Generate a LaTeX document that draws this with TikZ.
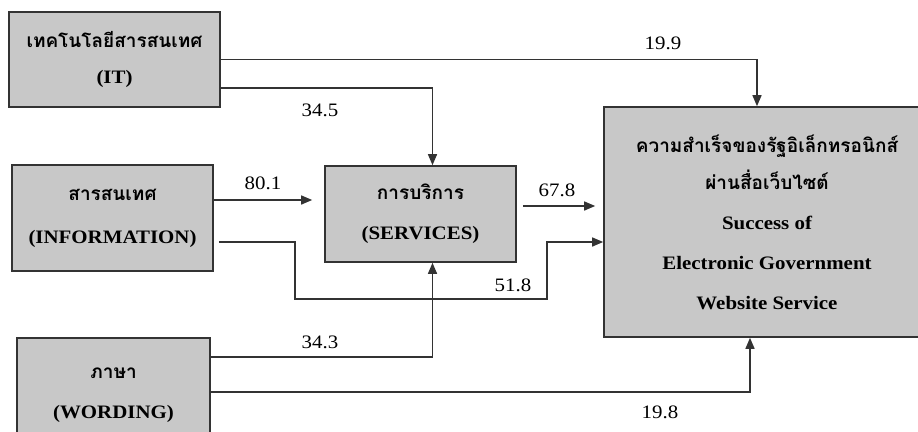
\documentclass[tikz,border=0pt]{standalone}
\usepackage{fontspec}
\setmainfont[FakeStretch=1.1]{Liberation Serif}
\newfontfamily\thaifont[Script=Thai]{Loma}
\usetikzlibrary{arrows.meta,calc,positioning}
\definecolor{boxgray}{HTML}{C8C8C8}
\definecolor{edgegray}{HTML}{333333}

\begin{document}
\begin{tikzpicture}[x=1pt,y=-1pt,>={Triangle[length=11pt,width=9pt]},
  factor/.style={draw=edgegray,fill=boxgray,line width=1.6pt,align=center,inner sep=0pt,font=\fontsize{19}{40}\selectfont\bfseries},
  link/.style={->,line width=1.4pt,draw=edgegray},
  coef/.style={font=\fontsize{19}{20}\selectfont,inner sep=0pt}]
\useasboundingbox (0,0) rectangle (918,431);
% factor boxes
\node[factor,minimum width=211pt,minimum height=95pt] (it) at (114.5,59.5) {{\thaifont เทคโนโลยีสารสนเทศ}\\[-4pt](IT)};
\node[factor,minimum width=201pt,minimum height=106pt] (info) at (112.5,218) {{\thaifont สารสนเทศ}\\[3pt](INFORMATION)};
\node[factor,minimum width=191pt,minimum height=96pt] (serv) at (420.5,214) {{\thaifont การบริการ}\\(SERVICES)};
\node[factor,minimum width=193pt,minimum height=114pt] (word) at (113.5,395) {{\thaifont ภาษา}\\(WORDING)};
\node[factor,minimum width=326pt,minimum height=230pt] (goal) at (767,222) {{\thaifont ความสำเร็จของรัฐอิเล็กทรอนิกส์}\\[-3pt]{\thaifont ผ่านสื่อเว็บไซต์}\\Success of\\Electronic Government\\Website Service};
% bend points
\coordinate (dipL) at (295,299);
\coordinate (dipR) at (547,299);
% paths
\draw[link] (it.east) -| ($(goal.north)+(-10,0)$);
\draw[link] ($(it.east)+(0,28.5)$) -| ($(serv.north)+(12,0)$);
\draw[link,shorten >=12pt] ($(info.east)+(0,-18)$) -- ($(info.east -| serv.west)+(0,-18)$);
\draw[link,shorten <=6pt,shorten >=8pt] ($(serv.east)+(0,-8)$) -- ($(serv.east -| goal.west)+(0,-8)$);
\draw[link,shorten <=5pt] ($(info.east)+(0,24)$) -| (dipL) -- (dipR) |- ($(goal.west)+(0,20)$);
\draw[link] ($(word.east)+(0,-38)$) -| ($(serv.south)+(12,0)$);
\draw[link] ($(word.east)+(0,-3)$) -| ($(goal.south)+(-17,0)$);
% path coefficients
\node[coef] at (663,43) {19.9};
\node[coef] at (320,110) {34.5};
\node[coef] at (263,183) {80.1};
\node[coef] at (557,190) {67.8};
\node[coef] at (513,285) {51.8};
\node[coef] at (320,342) {34.3};
\node[coef] at (660,412) {19.8};
\end{tikzpicture}
\end{document}
